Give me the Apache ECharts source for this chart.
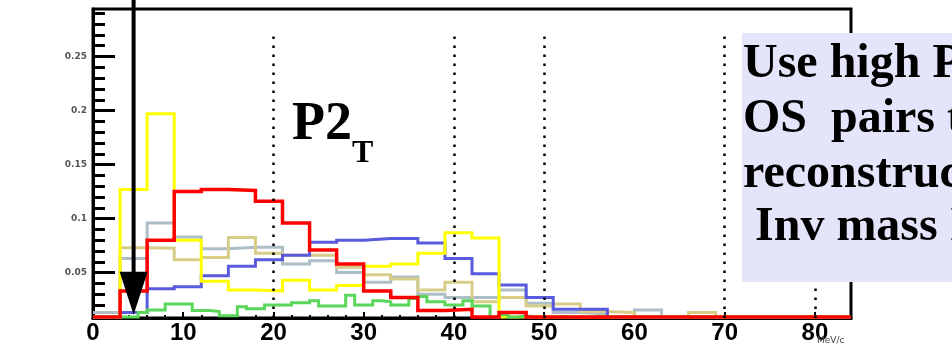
<!DOCTYPE html>
<html>
<head>
<meta charset="utf-8">
<script src="https://cdn.jsdelivr.net/npm/echarts@6/dist/echarts.min.js"></script>
<style>
  html, body { margin: 0; padding: 0; background: #fff; }
  #chart { width: 952px; height: 351px; }
</style>
</head>
<body>
<div id="chart"></div>
<script>
// histogram binning (3 units per bin, 0..84)
const binWidth = 3;
const redHist    = [0.009, 0.033, 0.080, 0.125, 0.127, 0.126, 0.116, 0.096, 0.071, 0.058, 0.033, 0.027, 0.015, 0.016,
                    0.009, 0.013, 0.009, 0.009, 0.009, 0.009, 0.009, 0.009, 0.009, 0.009, 0.009, 0.009, 0.009, 0.009];
const yellowHist = [0.009, 0.127, 0.197, 0.080, 0.042, 0.034, 0.033, 0.043, 0.034, 0.038, 0.056, 0.058, 0.068, 0.087,
                    0.082, 0.009, 0.009, 0.009, 0.009, 0.009, 0.009, 0.009, 0.009, 0.009, 0.009, 0.009, 0.009, 0.009];
const blueHist   = [0.009, 0.013, 0.035, 0.037, 0.047, 0.056, 0.062, 0.066, 0.078, 0.080, 0.0815, 0.0815, 0.0775, 0.063,
                    0.049, 0.0386, 0.027, 0.016, 0.016, 0.009, 0.009, 0.009, 0.009, 0.009, 0.009, 0.009, 0.009, 0.009];
const grayHist   = [0.013, 0.063, 0.096, 0.083, 0.072, 0.0735, 0.0735, 0.058, 0.061, 0.050, 0.041, 0.046, 0.030, 0.027,
                    0.027, 0.034, 0.0217, 0.013, 0.012, 0.009, 0.0155, 0.009, 0.009, 0.009, 0.009, 0.009, 0.009, 0.009];
const tanHist    = [0.009, 0.073, 0.0726, 0.062, 0.064, 0.0825, 0.068, 0.066, 0.066, 0.055, 0.048, 0.044, 0.034, 0.041,
                    0.023, 0.027, 0.019, 0.021, 0.014, 0.013, 0.009, 0.009, 0.013, 0.009, 0.009, 0.009, 0.009, 0.009];
// green one is finer (1 unit per bin)
const greenBinWidth = 1;
const greenHist  = [0.009, 0.009, 0.009, 0.009, 0.009, 0.013, 0.0155, 0.0155, 0.021, 0.021,
                    0.021, 0.015, 0.015, 0.014, 0.010, 0.010, 0.0185, 0.0165, 0.0165, 0.020,
                    0.020, 0.020, 0.022, 0.022, 0.024, 0.019, 0.019, 0.019, 0.029, 0.020,
                    0.020, 0.024, 0.023, 0.020, 0.020, 0.026, 0.028, 0.023, 0.023, 0.020,
                    0.020, 0.024, 0.019, 0.019, 0.009, 0.011, 0.009, 0.010, 0.009, 0.009,
                    0.009, 0.009, 0.009, 0.009, 0.009, 0.009, 0.009, 0.009, 0.009, 0.009,
                    0.009, 0.009, 0.009, 0.009, 0.009, 0.009, 0.009, 0.009, 0.009, 0.009,
                    0.009, 0.009, 0.009, 0.009, 0.009, 0.009, 0.009, 0.009, 0.009, 0.009,
                    0.009, 0.009, 0.009, 0.009];

const xTicks = [0, 10, 20, 30, 40, 50, 60, 70, 80];
const yTicks = [0.05, 0.1, 0.15, 0.2, 0.25];
const cutLines = [20, 40, 50, 70, 80];
const cutTop = 0.273;
const arrowTip = [4.5, 0.011];
const yMin = 0.008, yMax = 0.294;

const yMinor = [];
for (let i = 1; i <= 29; i++) yMinor.push(+(i * 0.01).toFixed(2));

function toSteps(vals, w) {
  const pts = vals.map((v, i) => [i * w, v]);
  pts.push([vals.length * w, vals[vals.length - 1]]);
  return pts;
}

function histSeries(name, vals, w, color, width) {
  return {
    name: name,
    type: 'line',
    step: 'end',
    data: toSteps(vals, w),
    showSymbol: false,
    clip: false,
    lineStyle: { color: color, width: width, join: 'miter' },
    itemStyle: { color: color },
    silent: true
  };
}

const myChart = echarts.init(document.getElementById('chart'));
const option = {
  animation: false,
  backgroundColor: '#fff',
  grid: {
    left: 93, right: 101, top: 9, bottom: 33,
    show: true, borderColor: '#000', borderWidth: 3
  },
  xAxis: {
    type: 'value', min: 0, max: 84, interval: 10,
    axisLine: { lineStyle: { color: '#000', width: 3 } },
    axisTick: { inside: true, length: 6, customValues: xTicks, lineStyle: { color: '#000', width: 2 } },
    minorTick: { show: true, splitNumber: 5, length: 3, lineStyle: { color: '#000', width: 2 } },
    axisLabel: {
      customValues: xTicks, color: '#000', fontSize: 24, fontWeight: 'bold',
      fontFamily: 'Liberation Sans', margin: 3
    },
    splitLine: { show: false }
  },
  yAxis: [
    {
      type: 'value', min: yMin, max: yMax,
      axisLine: { show: true, lineStyle: { color: '#000', width: 3 } },
      axisTick: { show: true, inside: true, length: 22, customValues: yTicks, lineStyle: { color: '#000', width: 3 } },
      axisLabel: {
        customValues: yTicks, formatter: v => String(+(+v).toFixed(2)),
        fontSize: 9, fontWeight: 'bold', color: '#555', fontFamily: 'DejaVu Sans', margin: 6
      },
      splitLine: { show: false }
    },
    {
      type: 'value', min: yMin, max: yMax, position: 'left',
      axisLine: { show: false },
      axisTick: { show: true, inside: true, length: 12, customValues: yMinor, lineStyle: { color: '#000', width: 3 } },
      axisLabel: { show: false },
      splitLine: { show: false }
    }
  ],
  series: [
    {
      type: 'line', data: [], silent: true,
      markLine: {
        silent: true, symbol: 'none', label: { show: false },
        lineStyle: { color: '#000', width: 2.5, type: [2.5, 6.5] },
        data: cutLines.map(x => [{ coord: [x, yMin] }, { coord: [x, cutTop] }])
      }
    },
    histSeries('gray', grayHist, binWidth, '#adbec6', 3),
    histSeries('tan', tanHist, binWidth, '#d7cd87', 3),
    histSeries('blue', blueHist, binWidth, '#5a5ade', 3),
    histSeries('yellow', yellowHist, binWidth, '#ffff00', 3),
    histSeries('green', greenHist, greenBinWidth, '#5ad65a', 3),
    histSeries('red', redHist, binWidth, '#ff0000', 3.5),
    {
      type: 'custom',
      data: [arrowTip],
      clip: false,
      silent: true,
      z: 10,
      renderItem: function (params, api) {
        const tip = api.coord([api.value(0), api.value(1)]);
        const headH = 43, headW = 28;
        return {
          type: 'group',
          children: [
            { type: 'line', shape: { x1: tip[0], y1: 0, x2: tip[0], y2: tip[1] - headH + 2 },
              style: { stroke: '#000', lineWidth: 4 } },
            { type: 'polygon',
              shape: { points: [[tip[0] - headW / 2, tip[1] - headH], [tip[0] + headW / 2, tip[1] - headH], [tip[0], tip[1]]] },
              style: { fill: '#000' } }
          ]
        };
      }
    }
  ],
  graphic: [
    { type: 'text', x: 292, y: 125, z: 50,
      style: { text: 'P2', font: 'bold 54px "Liberation Serif"', fill: '#000', verticalAlign: 'middle' } },
    { type: 'text', x: 352, y: 154, z: 50,
      style: { text: 'T', font: 'bold 32px "Liberation Serif"', fill: '#000', verticalAlign: 'middle' } },
    { type: 'rect', x: 742, y: 33, z: 100, shape: { width: 215, height: 249 }, style: { fill: '#e4e4fa' } },
    { type: 'text', x: 743, y: 65, z: 101,
      style: { text: 'Use high P', font: 'bold 48px "Liberation Serif"', fill: '#000', verticalAlign: 'middle' } },
    { type: 'text', x: 743, y: 120, z: 101,
      style: { text: 'OS  pairs t', font: 'bold 48px "Liberation Serif"', fill: '#000', verticalAlign: 'middle' } },
    { type: 'text', x: 743, y: 175, z: 101,
      style: { text: 'reconstruc', font: 'bold 48px "Liberation Serif"', fill: '#000', verticalAlign: 'middle' } },
    { type: 'text', x: 755, y: 228, z: 101,
      style: { text: 'Inv mass I', font: 'bold 48px "Liberation Serif"', fill: '#000', verticalAlign: 'middle' } },
    { type: 'text', x: 817, y: 341, z: 50,
      style: { text: 'MeV/c', font: '9px "DejaVu Sans"', fill: '#444', verticalAlign: 'middle' } }
  ]
};
myChart.setOption(option);
window.addEventListener('resize', () => { myChart.resize(); });
</script>
</body>
</html>
